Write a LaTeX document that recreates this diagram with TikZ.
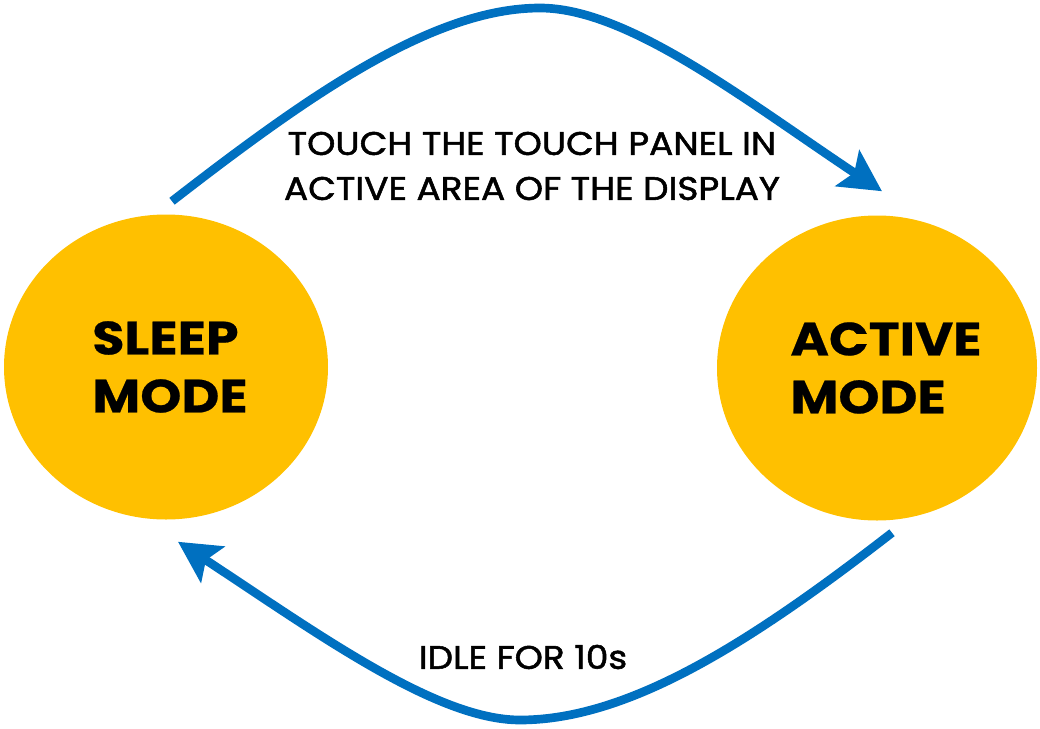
\documentclass[tikz,border=0pt]{standalone}
\usepackage{fontspec}
\setmainfont{Poppins}
\newfontfamily\labelfont{Poppins}[FakeStretch=1.1, FakeBold=1.6]
\newfontfamily\modefont{Poppins}[FakeStretch=1.12, BoldFeatures={FakeBold=0.5}]
\usetikzlibrary{arrows.meta,calc,shapes.geometric}
\definecolor{modeyellow}{HTML}{FFC000}
\definecolor{arrowblue}{HTML}{0070C0}
\begin{document}
\begin{tikzpicture}[x=0.75pt,y=-0.75pt,
  mode/.style={ellipse, fill=modeyellow, inner sep=0pt, draw=none},
  modetext/.style={font=\modefont\fontsize{35}{43.5}\selectfont\bfseries, align=left, text=black, inner sep=0pt},
  edgelabel/.style={font=\labelfont\fontsize{24.5}{33.75}\selectfont, align=center, text=black, inner sep=0pt},
  flow/.style={draw=arrowblue, line width=6.5pt, -{Stealth[length=31pt,width=32pt,inset=6pt]}}
]
\useasboundingbox (0,0) rectangle (1040,729);
\node[mode, minimum width=243pt, minimum height=228.75pt] (sleep) at (166,367) {};
\node[mode, minimum width=240pt, minimum height=228.75pt] (active) at (877,368) {};
\node[modetext] (sleeptxt) at (170,367) {SLEEP\\MODE};
\node[modetext] (activetxt) at (886,368) {ACTIVE\\MODE};
\draw[flow] ($(sleep.north)+(6,-13)$) .. controls (309,95) and (433,8) .. (540,8)
  .. controls (628,8) and (745,100) .. ($(active.north)+(5,-24)$);
\draw[flow] ($(active.south)+(15,12)$) .. controls (755,639) and (631,720) .. (520,720)
  .. controls (436,720) and (317,633) .. ($(sleep.south)+(12,22)$);
\node[edgelabel] (touchlbl) at (532,166) {TOUCH THE TOUCH PANEL IN\\ACTIVE AREA OF THE DISPLAY};
\node[edgelabel] (idlelbl) at (523,657) {IDLE FOR 10s};
\end{tikzpicture}
\end{document}
